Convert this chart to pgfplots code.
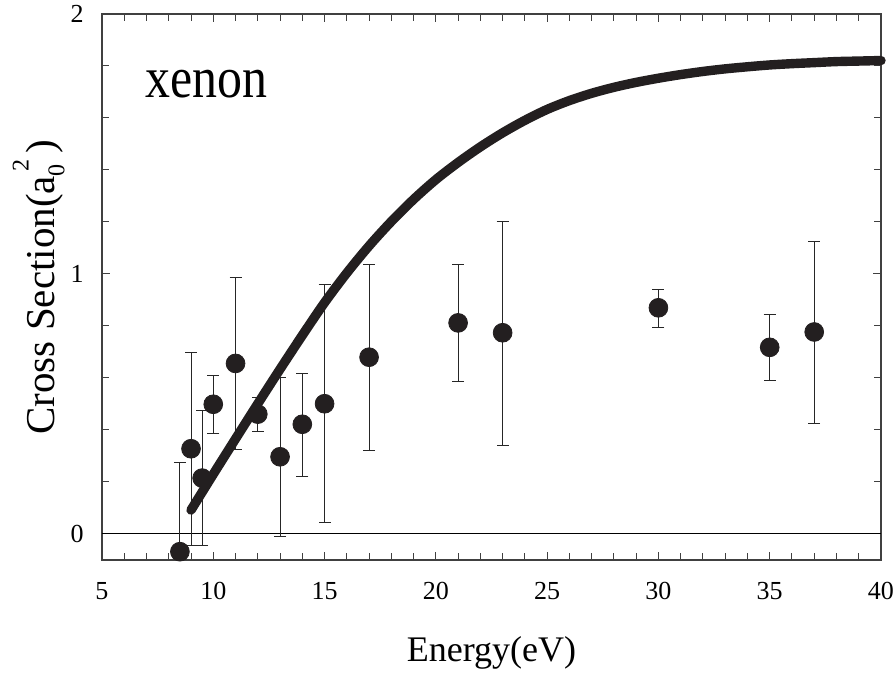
\documentclass[border=0pt]{standalone}
\usepackage{fontspec}
\setmainfont{Liberation Serif}
\newfontfamily\tagfont[FakeStretch=0.86]{Liberation Serif}
\usepackage{pgfplots}
\pgfplotsset{compat=1.18}
\usepackage{pgfplotstable}

\definecolor{ink}{HTML}{231F20}

% measured cross sections with asymmetric uncertainties
\pgfplotstableread{
x    y      ep     em
8.5  -0.068 0.342  0.032
9.0  0.328  0.369  0.373
9.5  0.215  0.261  0.261
10   0.499  0.110  0.114
11   0.656  0.331  0.330
12   0.461  0.065  0.065
13   0.297  0.306  0.305
14   0.422  0.196  0.199
15   0.501  0.457  0.457
17   0.680  0.355  0.359
21   0.812  0.224  0.226
23   0.774  0.426  0.432
30   0.870  0.071  0.074
35   0.718  0.126  0.128
37   0.777  0.348  0.351
}\measured

% calculated cross section
\pgfplotstableread{
x   y
9   0.092
10  0.230
11  0.366
12  0.501
13  0.634
14  0.764
15  0.890
16  1.004
17  1.108
18  1.202
19  1.287
20  1.363
21  1.429
22  1.489
23  1.543
24  1.591
25  1.633
26  1.667
27  1.695
28  1.718
29  1.737
30  1.753
31  1.767
32  1.779
33  1.789
34  1.797
35  1.804
36  1.809
37  1.813
38  1.817
39  1.819
40  1.821
}\theory

\begin{document}
\begin{tikzpicture}
\begin{axis}[
  scale only axis,
  width=389.5pt, height=273pt,
  xmin=5, xmax=40, ymin=-0.1, ymax=2,
  xtick={5,10,...,40}, ytick={0,1,2},
  minor x tick num=4, minor y tick num=4,
  tick align=inside,
  major tick length=4pt, minor tick length=3.5pt,
  every tick/.style={black!75, line width=0.5pt},
  axis line style={black!75, line width=0.7pt},
  /pgf/number format/assume math mode=true,
  ticklabel style={font=\fontsize{13}{15}\selectfont},
  xticklabel style={anchor=base, yshift=-20pt},
  yticklabel style={anchor=east, inner sep=0pt, xshift=-9pt},
  xlabel={Energy(eV)},
  xlabel style={font=\fontsize{18}{20}\selectfont,
    at={(axis description cs:0.5,-0.1863)}, anchor=base},
  ylabel={Cross Section(a\rlap{\raisebox{-0.25em}{\fontsize{12}{12}\selectfont 0}}\raisebox{0.62em}{\fontsize{12}{12}\selectfont\kern0.2em 2}\kern0.15em)},
  ylabel style={font=\fontsize{20.5}{22}\selectfont,
    at={(axis description cs:-0.0616,0.5)}, anchor=base, rotate=0},
  clip=false,
]
  % zero line
  \addplot[black, line width=0.5pt, forget plot] coordinates {(5,0) (40,0)};
  % data with error bars
  \addplot[only marks, mark=*, mark size=4.7pt,
    mark options={fill=ink, draw=ink},
    error bars/.cd, y dir=both, y explicit,
    error bar style={black!85, line width=0.5pt},
    error mark options={rotate=90, mark size=3pt, black!85, line width=0.5pt}]
    table[x=x, y=y, y error plus=ep, y error minus=em]{\measured};
  % model curve
  \addplot[ink, line width=4.7pt, line cap=round, line join=round, smooth, no marks]
    table[x=x, y=y]{\theory};
  \node[anchor=base west, inner sep=0pt, font=\tagfont\fontsize{29}{30}\selectfont]
    at (axis cs:6.93,1.677) {xenon};
\end{axis}
\pgfresetboundingbox
\path (-51pt,-57.5pt) rectangle (397pt,280pt);
\end{tikzpicture}
\end{document}
